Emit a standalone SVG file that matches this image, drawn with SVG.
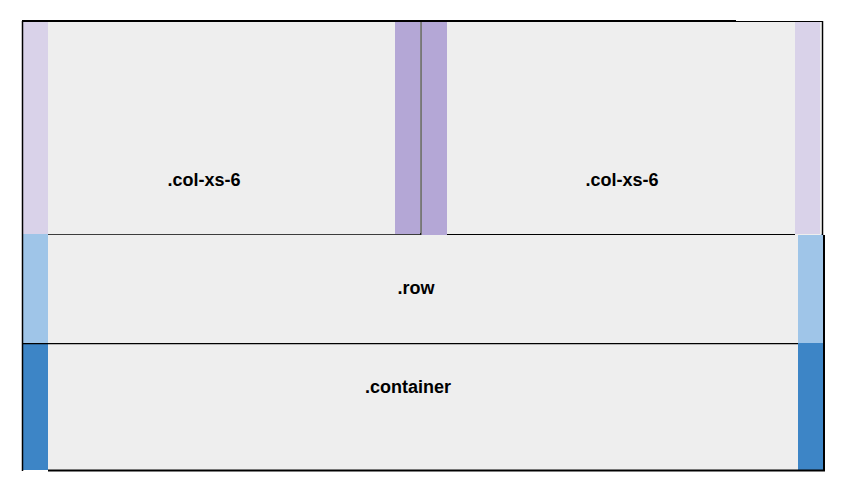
<svg xmlns="http://www.w3.org/2000/svg" width="854" height="498" viewBox="0 0 854 498">
<style>
.bg{fill:#eeeeee}
.lp{fill:#d9d2e9}
.dp{fill:#b4a7d6}
.lb{fill:#9fc5e8}
.db{fill:#3d85c6}
.ln{stroke:#000;fill:none}
.t{font-family:"Liberation Sans",Arial,sans-serif;font-size:18px;font-weight:bold;fill:#000;text-anchor:middle}
</style>
<rect width="854" height="498" fill="#ffffff"/>
<g id="container">
<rect class="bg" x="23" y="343" width="800" height="127"/>
<rect class="db" x="23" y="343" width="25" height="127"/>
<rect class="db" x="798" y="343" width="25" height="127"/>
<line class="ln" x1="23" y1="343.5" x2="798" y2="343.5" stroke-width="1.5"/>
<text class="t" x="408" y="393">.container</text>
</g>
<g id="row">
<rect class="bg" x="23" y="234" width="800" height="109"/>
<rect class="lb" x="23" y="234" width="25" height="109"/>
<rect class="lb" x="798" y="234" width="25" height="109"/>
<line class="ln" x1="48" y1="234" x2="798" y2="234" stroke-width="1.5"/>
<text class="t" x="416" y="294">.row</text>
</g>
<g id="col1">
<rect class="bg" x="23" y="22" width="397" height="212"/>
<rect class="lp" x="23" y="22" width="25" height="212"/>
<rect class="dp" x="395" y="22" width="25" height="212"/>
<text class="t" x="204" y="186">.col-xs-6</text>
</g>
<g id="col2">
<rect class="bg" x="421" y="22" width="400" height="213"/>
<rect class="dp" x="422" y="22" width="25" height="213"/>
<rect class="lp" x="795" y="22" width="25" height="212"/>
<line class="ln" x1="421" y1="22" x2="421" y2="235" stroke="#333" stroke-width="1"/>
<line class="ln" x1="447" y1="234.5" x2="795" y2="234.5" stroke-width="1"/>
<text class="t" x="622" y="186">.col-xs-6</text>
</g>
<g id="frame">
<line class="ln" x1="22.5" y1="21" x2="22.5" y2="471" stroke-width="1.5"/>
<line class="ln" x1="22" y1="21" x2="736" y2="21" stroke-width="2"/>
<line class="ln" x1="736" y1="21.5" x2="823" y2="21.5" stroke-width="1"/>
<line class="ln" x1="822.5" y1="21" x2="822.5" y2="235" stroke-width="1.5"/>
<line class="ln" x1="824" y1="235" x2="824" y2="471" stroke-width="2"/>
<line class="ln" x1="48" y1="470.5" x2="825" y2="470.5" stroke-width="2"/>
</g>
</svg>
